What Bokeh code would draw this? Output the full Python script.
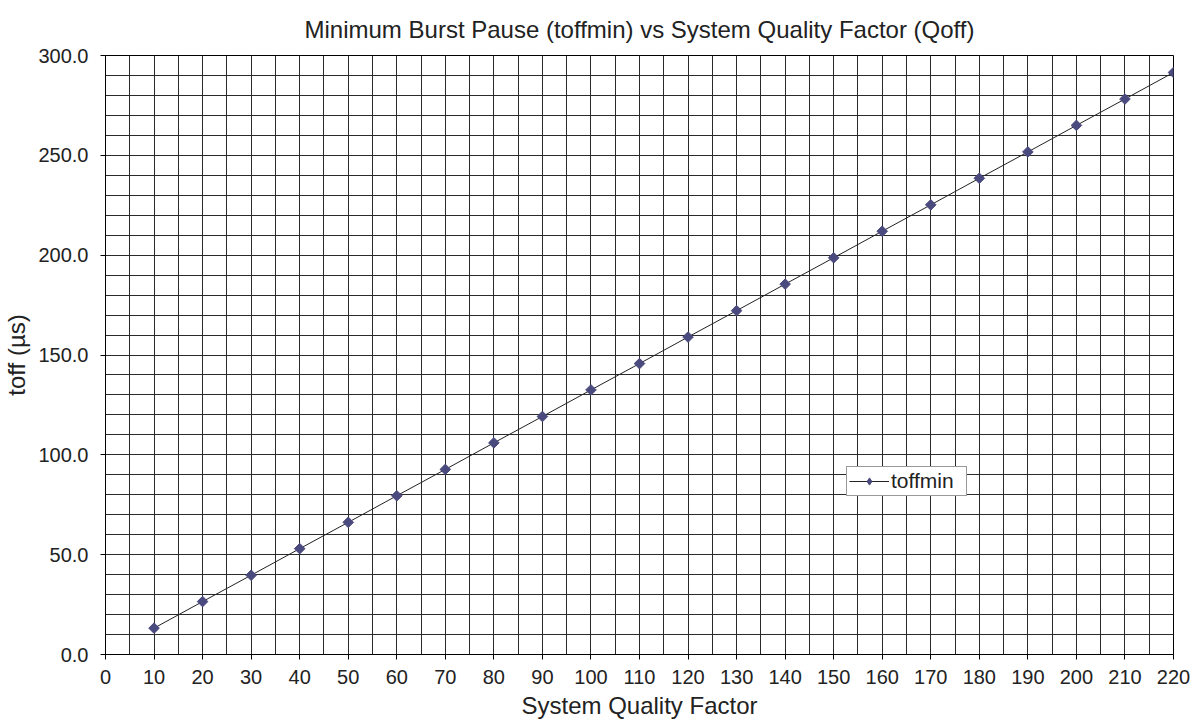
import math
from bokeh.plotting import figure
from bokeh.models import SingleIntervalTicker, Range1d, Legend, LegendItem, PrintfTickFormatter
from bokeh.embed import file_html
from bokeh.resources import INLINE

# data
quality_factor = [10, 20, 30, 40, 50, 60, 70, 80, 90, 100, 110,
                  120, 130, 140, 150, 160, 170, 180, 190, 200, 210, 220]
toffmin = [13.2, 26.5, 39.7, 53.0, 66.2, 79.5, 92.7, 106.0, 119.2, 132.5, 145.7,
           159.0, 172.2, 185.5, 198.7, 212.0, 225.2, 238.5, 251.7, 265.0, 278.2, 291.5]

title_text = "Minimum Burst Pause (toffmin) vs System Quality Factor (Qoff)"
x_label = "System Quality Factor"
y_label = "toff (µs)"
series_name = "toffmin"

FONT = "Liberation Sans"
GRID = "#2a2a2a"
MARKER = "#4a4a7e"

p = figure(width=1191, height=721, output_backend="svg", toolbar_location=None,
           x_range=Range1d(0, 220), y_range=Range1d(0, 300),
           min_border_left=105, min_border_right=18, min_border_top=55, min_border_bottom=66)

p.title.text = title_text
p.title.align = "center"
p.title.vertical_align = "top"
p.title.text_font = FONT
p.title.text_font_size = "24px"
p.title.text_font_style = "normal"
p.title.text_color = "#222222"
p.title.standoff = 22

p.background_fill_color = "white"
p.border_fill_color = "white"
p.outline_line_color = "black"
p.outline_line_width = 1

p.xaxis.ticker = SingleIntervalTicker(interval=10, num_minor_ticks=2)
p.yaxis.ticker = SingleIntervalTicker(interval=50, num_minor_ticks=5)
p.yaxis.formatter = PrintfTickFormatter(format="%.1f")

for ax in (p.xaxis, p.yaxis):
    ax.axis_line_color = "black"
    ax.axis_line_width = 1
    ax.major_tick_line_color = "black"
    ax.major_tick_out = 5
    ax.major_tick_in = 0
    ax.minor_tick_out = 0
    ax.minor_tick_in = 0
    ax.major_label_text_font = FONT
    ax.major_label_text_font_size = "20px"
    ax.major_label_text_color = "#222222"
    ax.axis_label_text_font = FONT
    ax.axis_label_text_font_size = "24px"
    ax.axis_label_text_font_style = "normal"
    ax.axis_label_text_color = "#222222"

p.xaxis.axis_label = x_label
p.yaxis.axis_label = y_label
p.xaxis.major_label_standoff = 10
p.yaxis.major_label_standoff = 12
p.xaxis.axis_label_standoff = 5
p.yaxis.axis_label_standoff = 5

for g in (p.xgrid, p.ygrid):
    g.grid_line_color = GRID
    g.grid_line_width = 1
    g.minor_grid_line_color = GRID
    g.minor_grid_line_width = 1

ln = p.line(quality_factor, toffmin, line_color="#222222", line_width=1)
mk = p.scatter(quality_factor, toffmin, marker="square", size=7.5, angle=math.pi / 4,
               fill_color=MARKER, line_color=MARKER)
# legend-only glyph (diamond shape for the legend swatch), placed outside the visible range
lg = p.scatter([-100], [-100], marker="diamond", size=11,
               fill_color=MARKER, line_color=MARKER)

legend = Legend(items=[LegendItem(label=series_name, renderers=[ln, lg])],
                location=(741, 158))
legend.label_text_font = FONT
legend.label_text_font_size = "21px"
legend.label_text_color = "#222222"
legend.glyph_width = 40
legend.glyph_height = 18
legend.label_height = 18
legend.label_width = 73
legend.label_standoff = 2
legend.padding = 2
legend.margin = 0
legend.border_line_color = "#333333"
legend.border_line_width = 1
legend.background_fill_color = "white"
legend.background_fill_alpha = 1
p.add_layout(legend, "center")

open("out.html", "w").write(file_html(p, INLINE))
